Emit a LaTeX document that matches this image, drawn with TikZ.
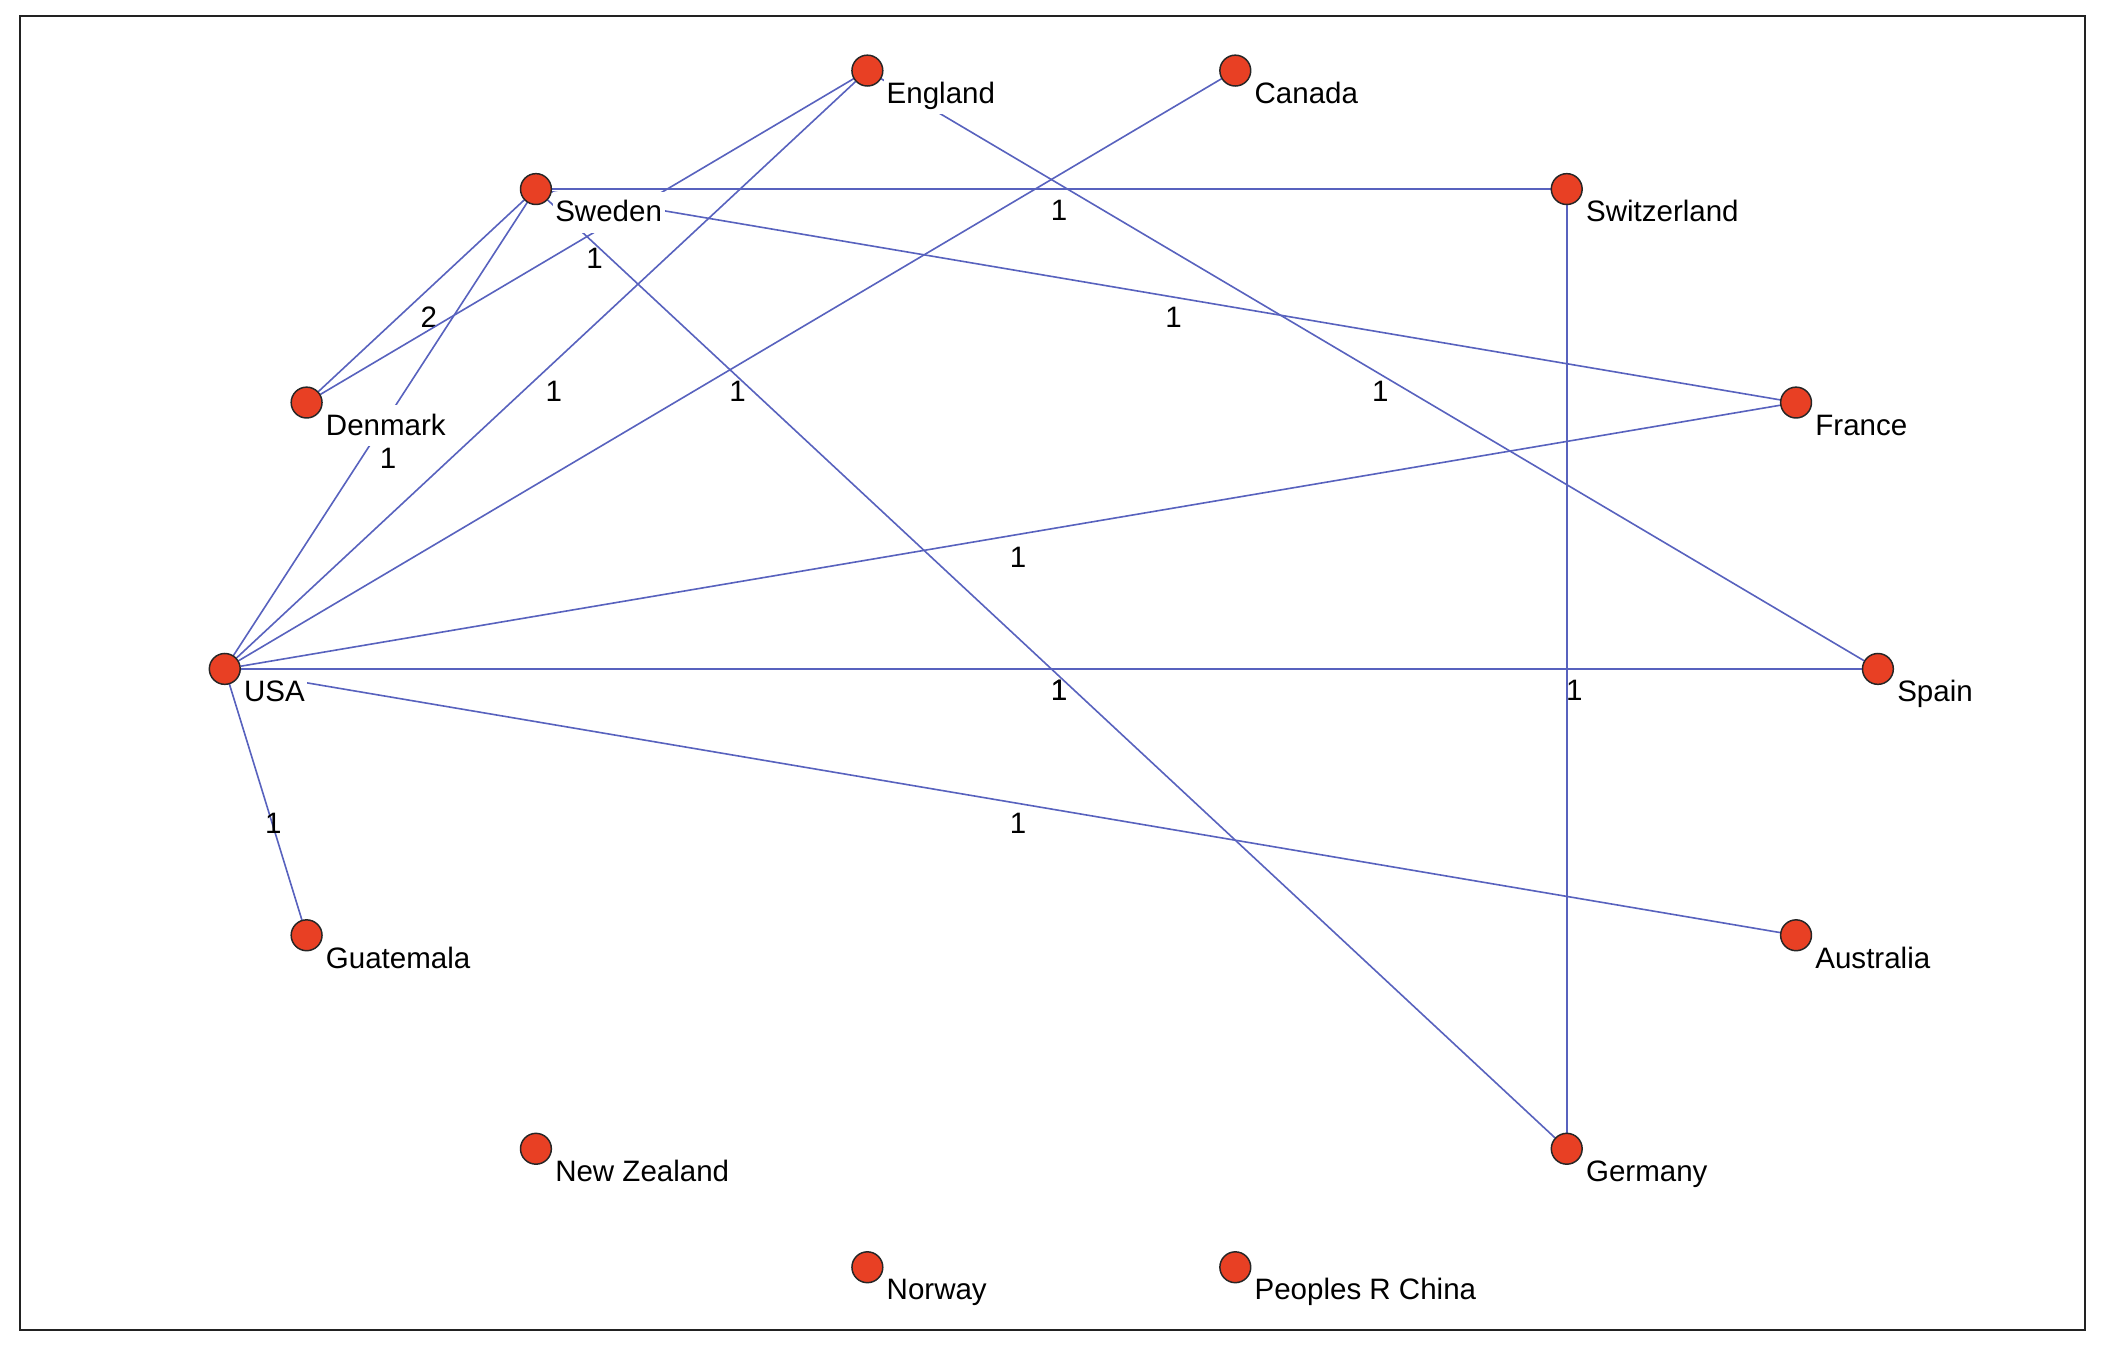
\documentclass[tikz,border=0pt]{standalone}
\usepackage{fontspec}
\setmainfont{Liberation Sans}
\definecolor{nodered}{RGB}{232,64,36}
\definecolor{edgeblue}{RGB}{88,98,190}
\definecolor{framegray}{RGB}{34,34,34}
\tikzset{
  country/.style={circle, fill=nodered, draw=black!85, line width=0.55pt, minimum size=11.5pt, inner sep=0pt},
  cname/.style={anchor=north west, fill=white, inner xsep=1pt, inner ysep=0pt, text height=11.25pt, text depth=4pt, font=\fontsize{11}{13}\selectfont},
  link/.style={draw=edgeblue, line width=0.6pt},
  wt/.style={anchor=north west, inner sep=0pt, xshift=-0.5pt, yshift=-4pt, font=\fontsize{11}{13}\selectfont, text=black}
}
\begin{document}
\begin{tikzpicture}[x=0.5pt,y=-0.5pt]
\useasboundingbox (0,0) rectangle (1568,1002);
\draw[framegray, line width=0.8pt] (15,12) rectangle (1554,991);

% node positions (circles)
\coordinate (pspain) at (1399.5,498.5);
\coordinate (pfrance) at (1338.5,300.0);
\coordinate (pswitz) at (1167.6,140.9);
\coordinate (pcanada) at (920.6,52.6);
\coordinate (pengland) at (646.4,52.6);
\coordinate (psweden) at (399.4,140.9);
\coordinate (pdenmark) at (228.5,300.0);
\coordinate (pusa) at (167.5,498.5);
\coordinate (pguat) at (228.5,697.0);
\coordinate (pnz) at (399.4,856.1);
\coordinate (pnorway) at (646.4,944.4);
\coordinate (pchina) at (920.6,944.4);
\coordinate (pgermany) at (1167.6,856.1);
\coordinate (paus) at (1338.5,697.0);

% invisible node shapes for edge endpoints
\foreach \n/\p in {spain/pspain, france/pfrance, switz/pswitz, canada/pcanada, england/pengland, sweden/psweden, denmark/pdenmark, usa/pusa, guat/pguat, nz/pnz, norway/pnorway, china/pchina, germany/pgermany, aus/paus}
  \node[circle, minimum size=11.5pt, inner sep=0pt] (\n) at (\p) {};

% edges
\draw[link] (sweden) -- (switz) node[wt, midway] {1};
\draw[link] (sweden) -- (denmark) node[wt, midway] {2};
\draw[link] (sweden) -- (france) node[wt, midway] {1};
\draw[link] (sweden) -- (germany) node[wt, midway] {1};
\draw[link] (sweden) -- (usa) node[wt, midway, yshift=-2.8pt] {1};
\draw[link] (england) -- (denmark) node[wt, midway] {1};
\draw[link] (england) -- (usa) node[wt, midway] {1};
\draw[link] (england) -- (spain) node[wt, midway] {1};
\draw[link] (canada) -- (usa) node[wt, midway] {1};
\draw[link] (switz) -- (germany) node[wt, midway] {1};
\draw[link] (usa) -- (france) node[wt, midway] {1};
\draw[link] (usa) -- (spain) node[wt, midway] {1};
\draw[link] (usa) -- (aus) node[wt, midway] {1};
\draw[link] (usa) -- (guat) node[wt, midway] {1};

% name labels (white boxes)
\node[cname] (spain-t) at (1411.5,500) {Spain};
\node[cname] (france-t) at (1350.5,301.5) {France};
\node[cname] (switz-t) at (1179.6,142.4) {Switzerland};
\node[cname] (canada-t) at (932.6,54.1) {Canada};
\node[cname] (england-t) at (658.4,54.1) {England};
\node[cname] (sweden-t) at (411.4,142.4) {Sweden};
\node[cname] (denmark-t) at (240.5,301.5) {Denmark};
\node[cname] (usa-t) at (179.5,500) {USA};
\node[cname] (guat-t) at (240.5,698.5) {Guatemala};
\node[cname] (nz-t) at (411.4,857.6) {New Zealand};
\node[cname] (norway-t) at (658.4,945.9) {Norway};
\node[cname] (china-t) at (932.6,945.9) {Peoples R China};
\node[cname] (germany-t) at (1179.6,857.6) {Germany};
\node[cname] (aus-t) at (1350.5,698.5) {Australia};

% circles on top
\foreach \p in {pspain, pfrance, pswitz, pcanada, pengland, psweden, pdenmark, pusa, pguat, pnz, pnorway, pchina, pgermany, paus}
  \node[country] at (\p) {};
\end{tikzpicture}
\end{document}
